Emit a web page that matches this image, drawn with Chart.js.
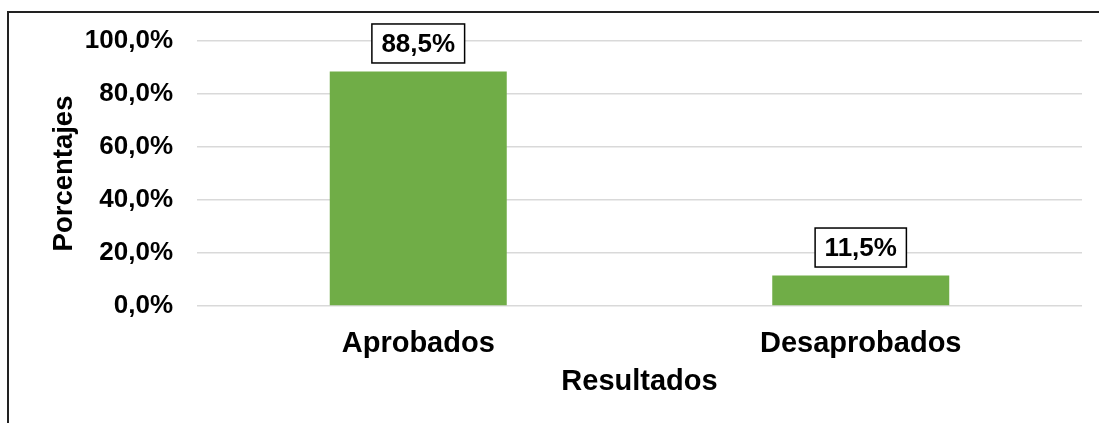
<!DOCTYPE html>
<html lang="es">
<head>
<meta charset="utf-8">
<script src="https://cdn.jsdelivr.net/npm/chart.js@4.4.0/dist/chart.umd.min.js"></script>
<style>
  html, body { margin: 0; padding: 0; background: #fff; }
  #wrap { width: 1099px; height: 423px; }
</style>
</head>
<body>
<div id="wrap"><canvas id="chart" width="1099" height="423"></canvas></div>
<script>
// datos
var categorias = ['Aprobados', 'Desaprobados'];
var porcentajes = [88.5, 11.5];
var yMin = 0;
var yMax = 100;
var yPaso = 20;

var fuente = "'Liberation Sans', Arial, sans-serif";

function fmt(v) {
  return v.toFixed(1).replace('.', ',') + '%';
}

// marco del grafico (solo lados izquierdo y superior visibles)
var marco = {
  id: 'marco',
  afterDraw: function (chart) {
    var ctx = chart.ctx;
    ctx.save();
    ctx.strokeStyle = '#222';
    ctx.lineWidth = 2;
    ctx.beginPath();
    ctx.moveTo(8, 423);
    ctx.lineTo(8, 12);
    ctx.lineTo(1099, 12);
    ctx.stroke();
    ctx.restore();
  }
};

// etiquetas de datos con recuadro
var etiquetas = {
  id: 'etiquetas',
  afterDatasetsDraw: function (chart) {
    var ctx = chart.ctx;
    var meta = chart.getDatasetMeta(0);
    ctx.save();
    ctx.font = 'bold 26px ' + fuente;
    ctx.textAlign = 'center';
    ctx.textBaseline = 'middle';
    meta.data.forEach(function (bar, i) {
      var txt = fmt(porcentajes[i]);
      var w = ctx.measureText(txt).width + 19;
      var h = 39;
      var cx = bar.x;
      var bottom = bar.y - 8.5;
      ctx.fillStyle = '#fff';
      ctx.fillRect(cx - w / 2, bottom - h, w, h);
      ctx.strokeStyle = '#000';
      ctx.lineWidth = 1.5;
      ctx.strokeRect(cx - w / 2, bottom - h, w, h);
      ctx.fillStyle = '#000';
      ctx.fillText(txt, cx, bottom - h / 2 + 1);
    });
    ctx.restore();
  }
};

new Chart(document.getElementById('chart').getContext('2d'), {
  type: 'bar',
  data: {
    labels: categorias,
    datasets: [{
      data: porcentajes,
      backgroundColor: '#70AD47',
      barPercentage: 0.4,
      categoryPercentage: 1.0
    }]
  },
  options: {
    responsive: false,
    animation: false,
    layout: { padding: { left: 48, right: 17, top: 41, bottom: 24 } },
    plugins: {
      legend: { display: false },
      tooltip: { enabled: false }
    },
    scales: {
      x: {
        grid: { display: false },
        border: { display: false },
        ticks: {
          color: '#000',
          padding: 13,
          font: { family: fuente, size: 29, weight: 'bold' }
        },
        title: {
          display: true,
          text: 'Resultados',
          color: '#000',
          padding: 0,
          font: { family: fuente, size: 29, weight: 'bold' }
        },
        afterFit: function (s) { s.height = 423 - 24 - 306; }
      },
      y: {
        min: yMin,
        max: yMax,
        grid: { color: '#d9d9d9', lineWidth: 1.5, drawTicks: false },
        border: { display: false },
        ticks: {
          stepSize: yPaso,
          color: '#000',
          padding: 24,
          font: { family: fuente, size: 26, weight: 'bold' },
          callback: function (v) { return fmt(v); }
        },
        title: {
          display: true,
          text: 'Porcentajes',
          color: '#000',
          padding: 0,
          font: { family: fuente, size: 27.5, weight: 'bold' }
        },
        afterFit: function (s) { s.width = 197 - 48; }
      }
    }
  },
  plugins: [marco, etiquetas]
});
</script>
</body>
</html>
